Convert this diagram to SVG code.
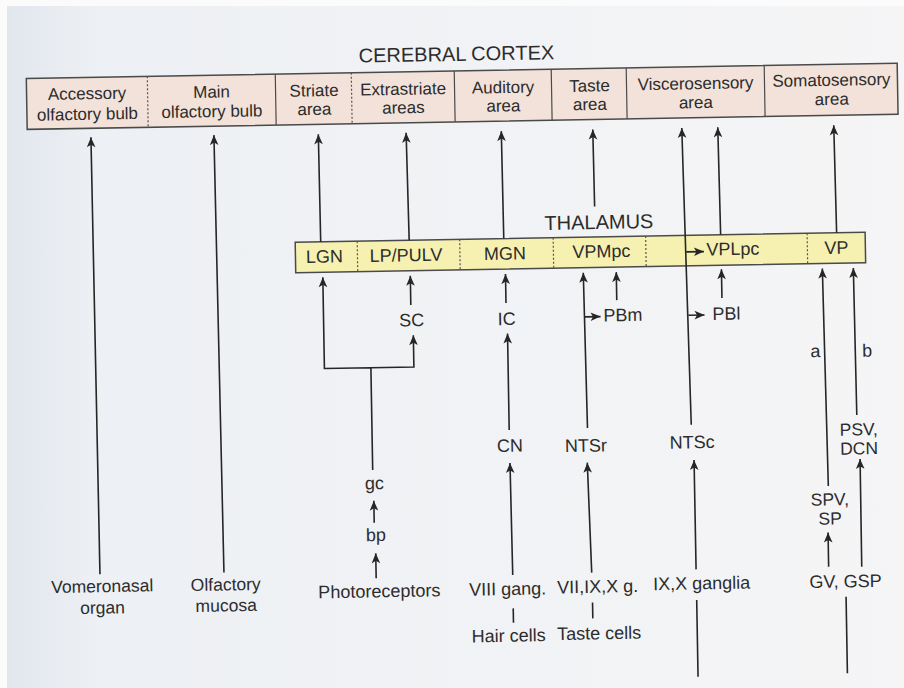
<svg xmlns="http://www.w3.org/2000/svg" width="904" height="688" viewBox="0 0 904 688">
<defs>
<linearGradient id="bg" x1="0" y1="0" x2="1" y2="0">
<stop offset="0" stop-color="#e2e7ee"/>
<stop offset="0.1" stop-color="#edf0f4"/>
<stop offset="1" stop-color="#f5f5f6"/>
</linearGradient>
<marker id="ah" viewBox="-11 -5 12 10" refX="0" refY="0" markerWidth="12" markerHeight="10" markerUnits="userSpaceOnUse" orient="auto">
<path d="M0,0 L-10,-4.3 L-7.5,0 L-10,4.3 Z" fill="#262626"/>
</marker>
<style>
.t{font-family:"Liberation Sans",Arial,Helvetica,sans-serif;fill:#2c2c2c;text-anchor:middle}
.c{font-size:17px}
.n{font-size:18px}
.m{font-size:17.5px}
.h{font-size:20px}
.cx{fill:#f2e2d9;stroke:#4a4a4a;stroke-width:1.5}
.th{fill:#f6f1b0;stroke:#4a4a4a;stroke-width:1.5}
.dv{stroke:#4a4a4a;stroke-width:1.2}
.dt{stroke:#555;stroke-width:1.2;stroke-dasharray:2 2}
.ln{fill:none;stroke:#262626;stroke-width:1.6}
.ar{marker-end:url(#ah)}
</style>
</defs>
<rect x="0" y="0" width="904" height="688" fill="#fbfbfc"/>
<rect x="7" y="6" width="897" height="682" fill="url(#bg)"/>
<g transform="rotate(-1 452 344)">
<g id="cerebral-cortex">
<text class="t h" x="461.5" y="61">CEREBRAL CORTEX</text>
<rect class="cx" x="31" y="71" width="871" height="51"/>
<line class="dt" x1="152" y1="71" x2="152" y2="122"/>
<line class="dv" x1="280" y1="71" x2="280" y2="122"/>
<line class="dt" x1="356" y1="71" x2="356" y2="122"/>
<line class="dv" x1="459" y1="71" x2="459" y2="122"/>
<line class="dv" x1="556" y1="71" x2="556" y2="122"/>
<line class="dv" x1="631" y1="71" x2="631" y2="122"/>
<line class="dv" x1="769" y1="71" x2="769" y2="122"/>
<g id="accessory-olfactory-bulb"><text class="t c" x="91.5" y="93">Accessory</text><text class="t c" x="91.5" y="113.5">olfactory bulb</text></g>
<g id="main-olfactory-bulb"><text class="t c" x="216" y="93.5">Main</text><text class="t c" x="216" y="113">olfactory bulb</text></g>
<g id="striate-area"><text class="t c" x="318.5" y="94">Striate</text><text class="t c" x="318.5" y="112.5">area</text></g>
<g id="extrastriate-areas"><text class="t c" x="407.5" y="94">Extrastriate</text><text class="t c" x="407.5" y="112.5">areas</text></g>
<g id="auditory-area"><text class="t c" x="507.5" y="94">Auditory</text><text class="t c" x="507.5" y="112.5">area</text></g>
<g id="taste-area"><text class="t c" x="594" y="94">Taste</text><text class="t c" x="594" y="112.5">area</text></g>
<g id="viscerosensory-area"><text class="t c" x="700" y="93.5">Viscerosensory</text><text class="t c" x="700" y="112.5">area</text></g>
<g id="somatosensory-area"><text class="t c" x="836" y="92.5">Somatosensory</text><text class="t c" x="836" y="111.5">area</text></g>
</g>
<g id="thalamus">
<text class="t h" x="601" y="231.6">THALAMUS</text>
<rect class="th" x="297" y="239.5" width="570" height="30.5"/>
<line class="dt" x1="359" y1="239.5" x2="359" y2="270"/>
<line class="dt" x1="461.5" y1="239.5" x2="461.5" y2="270"/>
<line class="dt" x1="555" y1="239.5" x2="555" y2="270"/>
<line class="dt" x1="647.5" y1="239.5" x2="647.5" y2="270"/>
<line class="dt" x1="809" y1="239.5" x2="809" y2="270"/>
<g id="lgn"><text class="t n" x="326" y="260.5">LGN</text></g>
<g id="lp-pulv"><text class="t n" x="407.5" y="260.5">LP/PULV</text></g>
<g id="mgn"><text class="t n" x="506.5" y="260.5">MGN</text></g>
<g id="vpmpc"><text class="t n" x="603" y="260">VPMpc</text></g>
<g id="vplpc"><text class="t n" x="734.6" y="260">VPLpc</text></g>
<g id="vp"><text class="t n" x="838" y="260.5">VP</text></g>
</g>
<g id="sc"><text class="t n" x="412" y="325.5">SC</text></g>
<g id="ic"><text class="t n" x="507" y="326">IC</text></g>
<g id="pbm"><text class="t n" x="623.4" y="324.2">PBm</text></g>
<g id="pbl"><text class="t n" x="727" y="324.5">PBl</text></g>
<g id="gc"><text class="t n" x="372" y="488">gc</text></g>
<g id="bp"><text class="t n" x="372.5" y="539.7">bp</text></g>
<g id="photoreceptors"><text class="t n" x="375" y="596">Photoreceptors</text></g>
<g id="cn"><text class="t n" x="508" y="452.7">CN</text></g>
<g id="ntsr"><text class="t n" x="584" y="454">NTSr</text></g>
<g id="ntsc"><text class="t n" x="690.5" y="452.5">NTSc</text></g>
<g id="psv-dcn"><text class="t m" x="857.2" y="442.5">PSV,</text><text class="t m" x="857.2" y="461.5">DCN</text></g>
<g id="spv-sp"><text class="t m" x="827" y="512">SPV,</text><text class="t m" x="827" y="531">SP</text></g>
<g id="vomeronasal-organ"><text class="t m" x="98" y="586">Vomeronasal</text><text class="t m" x="98" y="607.5">organ</text></g>
<g id="olfactory-mucosa"><text class="t m" x="221.6" y="586.5">Olfactory</text><text class="t m" x="221.6" y="607.5">mucosa</text></g>
<g id="viii-gang"><text class="t n" x="503.3" y="596">VIII gang.</text></g>
<g id="hair-cells"><text class="t n" x="503.6" y="642.7">Hair cells</text></g>
<g id="vii-ix-x-g"><text class="t n" x="593.5" y="595.2">VII,IX,X g.</text></g>
<g id="taste-cells"><text class="t n" x="594.1" y="641.9">Taste cells</text></g>
<g id="ix-x-ganglia"><text class="t n" x="697.5" y="593.7">IX,X ganglia</text></g>
<g id="gv-gsp"><text class="t n" x="841.3" y="594.2">GV, GSP</text></g>
<g id="connectors">
<path class="ln ar" d="M96,568 L94.6,131"/>
<path class="ln ar" d="M220,568.5 L217.6,131"/>
<path class="ln ar" d="M322.5,239.5 L322,132"/>
<path class="ln ar" d="M411,239.5 L409.8,132"/>
<path class="ln ar" d="M505.6,239.5 L505,132"/>
<path class="ln ar" d="M597,209 L596.5,132"/>
<path class="ln ar" d="M689.8,429 L685.5,132"/>
<path class="ln ar" d="M722.5,239.5 L721.5,132"/>
<path class="ln ar" d="M838.5,239.5 L837.5,132"/>
<path class="ln ar" d="M370.5,468.6 V366.3 H324 V275"/>
<path class="ln ar" d="M370.5,366.3 H413.5 V334.5"/>
<path class="ln ar" d="M411.5,304.3 L411.5,275"/>
<path class="ln ar" d="M506.7,304 L506.7,275"/>
<path class="ln ar" d="M507.7,431 L507.7,334.5"/>
<path class="ln ar" d="M508.7,576 L507.9,464"/>
<path class="ln" d="M508.6,609.4 L508.6,623.8"/>
<path class="ln ar" d="M586,430.4 L584.5,275"/>
<path class="ln ar" d="M585.3,319.2 L601,319.2"/>
<path class="ln ar" d="M617.5,303 L617.5,275"/>
<path class="ln ar" d="M587.7,575 L585.2,465"/>
<path class="ln" d="M588,605 L588,620.8"/>
<path class="ln ar" d="M687.8,256 L705.5,256"/>
<path class="ln ar" d="M688.8,319.4 L705,319.4"/>
<path class="ln ar" d="M722.7,302.7 L722.7,274"/>
<path class="ln ar" d="M692.1,573.6 L692,464.2"/>
<path class="ln" d="M692.2,604.3 L692.2,681"/>
<path class="ln ar" d="M825.8,492.6 L823.6,275"/>
<path class="ln ar" d="M855.5,422 L854.6,275"/>
<path class="ln ar" d="M824.7,573.2 L824.7,539"/>
<path class="ln ar" d="M857.8,573.9 L858,466"/>
<path class="ln" d="M841.6,603.6 L841.6,680"/>
<path class="ln ar" d="M371.1,521.3 L371.1,499.3"/>
<path class="ln ar" d="M372.1,577 L372.1,552"/>
<text class="t n" x="815.2" y="363.6">a</text>
<text class="t n" x="866.9" y="364">b</text>
</g>
</g>
</svg>
